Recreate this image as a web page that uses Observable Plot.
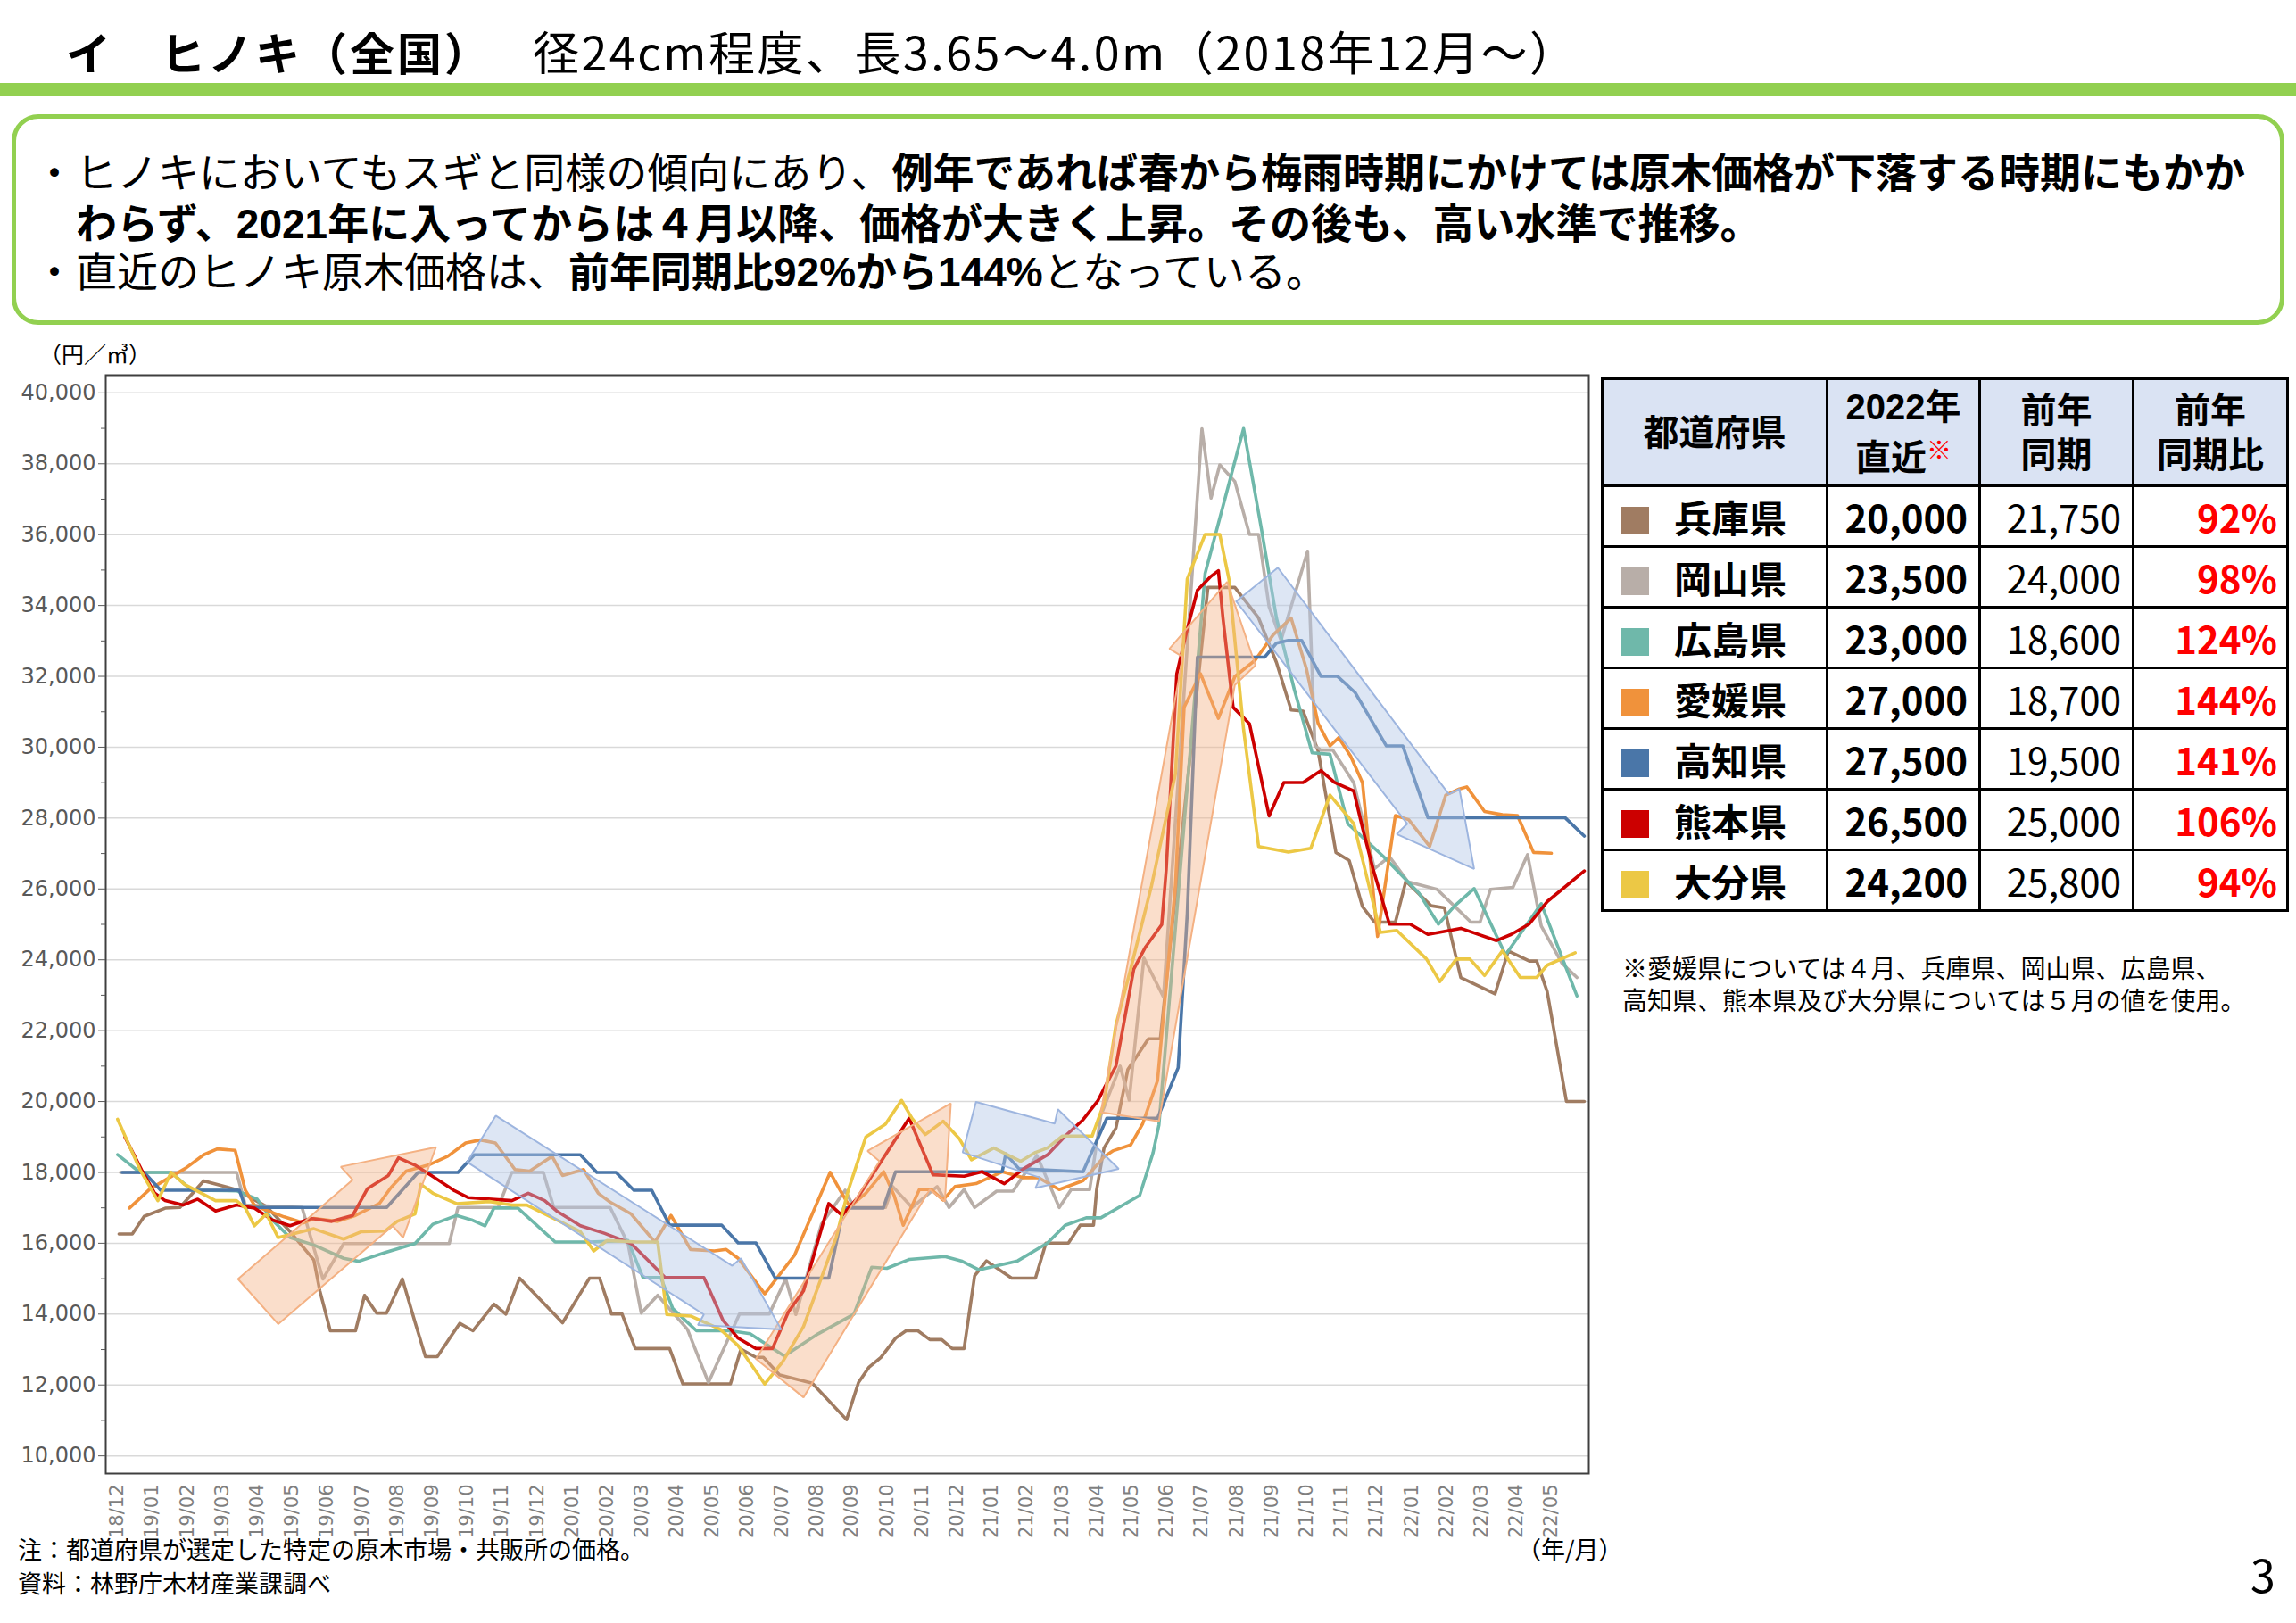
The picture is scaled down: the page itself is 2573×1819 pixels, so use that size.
<!DOCTYPE html>
<html lang="ja">
<head>
<meta charset="utf-8">
<script src="https://cdn.jsdelivr.net/npm/d3@7"></script>
<script src="https://cdn.jsdelivr.net/npm/@observablehq/plot@0.6"></script>
<style>
html,body{margin:0;padding:0;background:#fff;}
body{width:2573px;height:1819px;position:relative;overflow:hidden;font-family:"Noto Sans CJK JP","Noto Sans",sans-serif;color:#000;}
.abs{position:absolute;white-space:nowrap;}
.t1{left:74px;top:26px;font-size:50px;font-weight:bold;line-height:62px;letter-spacing:3px;}
.t2{left:597px;top:26px;font-size:52px;line-height:62px;letter-spacing:2.5px;}
.bar{left:0;top:93px;width:2573px;height:15px;background:#92d050;}
.box{left:13px;top:128px;width:2547px;height:236px;box-sizing:border-box;border:5px solid #92d050;border-radius:30px;}
.ln{font-family:"Liberation Sans","Noto Sans CJK JP",sans-serif;font-size:46px;line-height:56px;}
.ln b{font-weight:bold;}
.bul{font-family:"Liberation Sans","Noto Sans CJK JP",sans-serif;font-size:46px;line-height:56px;}
.note{font-size:27px;line-height:34px;}
table.tb{position:absolute;left:1794px;top:423px;border-collapse:collapse;border:3px solid #000;font-family:"Noto Sans CJK JP",sans-serif;}
table.tb td,table.tb th{border:3px solid #000;padding:0;}
table.tb th{background:#dae3f3;font-family:"Liberation Sans","Noto Sans CJK JP",sans-serif;font-weight:bold;font-size:40px;line-height:50px;height:117px;text-align:center;}
table.tb td{height:65px;font-size:42px;}
td.nm{font-weight:bold;text-align:left;}
td.nm span.sw{display:inline-block;width:31px;height:31px;margin:0 28px 0 20px;vertical-align:-2px;}
td.v1{font-weight:bold;text-align:right;padding-right:12px !important;}
td.v2{text-align:right;padding-right:12px !important;}
td.v3{font-weight:bold;text-align:right;color:#ff0000;padding-right:10px !important;}
#chart{position:absolute;left:0;top:380px;}
</style>
</head>
<body>
<div class="abs t1">イ　ヒノキ（全国）</div>
<div class="abs t2">径24cm程度、長3.65～4.0m（2018年12月～）</div>
<div class="abs bar"></div>
<div class="abs box"></div>
<div class="abs bul" style="left:38px;top:166px;">・</div>
<div class="abs ln" style="left:85px;top:166px;"><span>ヒノキにおいてもスギと同様の傾向にあり、</span><b>例年であれば春から梅雨時期にかけては原木価格が下落する時期にもかか</b></div>
<div class="abs ln" style="left:85px;top:223px;"><b>わらず、2021年に入ってからは４月以降、価格が大きく上昇。その後も、高い水準で推移。</b></div>
<div class="abs bul" style="left:38px;top:277px;">・</div>
<div class="abs ln" style="left:85px;top:277px;"><span>直近のヒノキ原木価格は、</span><b>前年同期比92%から144%</b><span>となっている。</span></div>

<div class="abs" style="left:44px;top:380px;font-size:25px;line-height:32px;">（円／㎥）</div>
<div id="chart"></div>

<div class="abs note" style="left:20px;top:1719px;">注：都道府県が選定した特定の原木市場・共販所の価格。</div>
<div class="abs note" style="left:20px;top:1757px;">資料：林野庁木材産業課調べ</div>
<div class="abs note" style="left:1700px;top:1719px;">（年/月）</div>
<div class="abs" style="left:2522px;top:1733px;font-size:50px;line-height:60px;">3</div>

<table class="tb" id="tbl"></table>
<div class="abs" style="left:1818px;top:1066px;font-size:28px;line-height:36px;">※愛媛県については４月、兵庫県、岡山県、広島県、<br>高知県、熊本県及び大分県については５月の値を使用。</div>

<script>
// ---- data ----
const monthLabels = ["18/12","19/01","19/02","19/03","19/04","19/05","19/06","19/07","19/08","19/09","19/10","19/11","19/12",
  "20/01","20/02","20/03","20/04","20/05","20/06","20/07","20/08","20/09","20/10","20/11","20/12",
  "21/01","21/02","21/03","21/04","21/05","21/06","21/07","21/08","21/09","21/10","21/11","21/12",
  "22/01","22/02","22/03","22/04","22/05"];
const yTicks = [10000,12000,14000,16000,18000,20000,22000,24000,26000,28000,30000,32000,34000,36000,38000,40000];
const yMinor = [11000,13000,15000,17000,19000,21000,23000,25000,27000,29000,31000,33000,35000,37000,39000];

const prefectures = ["兵庫県","岡山県","広島県","愛媛県","高知県","熊本県","大分県"];
const colors = ["#a07c62","#b8aea8","#6fb8aa","#f0923b","#4a76a8","#cc0000","#ecc845"];
const latest = ["20,000","23,500","23,000","27,000","27,500","26,500","24,200"];
const prevYear = ["21,750","24,000","18,600","18,700","19,500","25,000","25,800"];
const ratio = ["92%","98%","124%","144%","141%","106%","94%"];

// [month offset from 2018/12, 円/㎥]
const hyogo = [[0.05,16260],[0.43,16260],[0.77,16760],[1.37,16990],[1.79,17010],[2.47,17760],[3.41,17510],[4.26,17040],[4.94,16330],[5.62,15530],[5.79,14660],[6.09,13530],[6.81,13530],[7.07,14530],[7.41,14030],[7.7,14030],[8.15,14990],[8.51,13780],[8.81,12800],[9.15,12800],[9.79,13740],[10.17,13530],[10.77,14280],[11.11,14000],[11.5,15015],[12.73,13755],[13.5,15015],[13.79,15015],[14.13,14005],[14.43,14005],[14.81,13030],[15.79,13030],[16.17,12030],[17.53,12030],[17.83,13010],[18.26,12780],[18.47,12780],[18.94,12280],[19.87,12050],[20.85,11020],[21.19,12070],[21.49,12500],[21.83,12775],[22.25,13320],[22.55,13530],[22.89,13530],[23.23,13280],[23.57,13280],[23.87,13030],[24.21,13030],[24.51,15080],[24.85,15500],[25.57,15015],[26.25,15015],[26.55,16005],[27.19,16005],[27.53,16510],[27.91,16510],[28.0,17515],[28.21,18690],[28.55,19250],[28.89,20900],[29.48,21770],[29.82,21770],[31.18,34510],[31.95,34510],[32.63,33645],[33.14,32390],[33.56,31050],[33.9,31020],[34.33,29900],[34.84,27030],[35.22,26800],[35.6,25500],[35.94,25063],[36.54,25063],[36.84,26220],[37.56,25526],[37.94,25468],[38.41,23500],[39.39,23040],[39.77,24250],[40.37,23964],[40.58,23964],[40.88,23100],[41.43,20000],[41.94,20000]];
const okayama = [[0.09,18000],[3.41,18000],[3.66,17080],[5.28,17010],[5.88,14990],[6.47,15990],[9.49,15990],[9.74,17010],[10.89,17010],[11.28,18000],[12.18,18000],[12.48,17010],[14.09,17010],[14.6,15990],[14.98,14030],[15.45,14530],[16.3,13570],[16.9,12070],[17.79,14005],[18.64,14005],[19.11,14990],[19.4,13990],[20.13,16535],[20.81,17495],[21.06,17010],[21.96,17010],[22.17,17600],[22.72,17010],[23.44,17600],[23.78,17010],[24.21,17515],[24.51,17010],[25.14,17470],[25.61,17470],[26.29,18480],[26.93,17010],[27.27,17515],[27.8,17515],[28.12,19610],[28.67,21000],[28.93,20040],[29.35,24050],[29.91,22950],[31.01,38990],[31.27,37030],[31.52,37970],[31.95,37500],[32.37,36005],[32.63,36005],[32.93,33960],[33.27,33016],[34.03,35533],[34.24,30040],[34.41,29920],[34.75,29920],[35.35,29000],[35.94,26570],[36.37,26910],[36.9,26200],[37.73,25990],[38.7,25063],[38.96,25063],[39.26,25990],[39.9,26047],[40.32,26970],[40.71,24950],[41.3,23906],[41.73,23500]];
const hiroshima = [[0.01,18500],[0.65,18000],[1.54,18000],[2.13,17495],[3.41,17480],[4.0,17245],[4.43,16660],[4.94,16160],[5.62,15950],[6.47,15575],[6.9,15490],[7.66,15740],[8.51,15990],[9.02,16535],[9.7,16785],[10.13,16660],[10.51,16493],[10.77,16994],[11.45,16994],[12.52,16034],[13.5,16034],[14.6,16075],[15.03,15032],[15.54,15032],[15.88,14155],[16.56,13530],[17.53,13530],[18.09,13445],[19.07,12820],[20.04,13445],[21.06,14000],[21.57,15324],[22.0,15292],[22.64,15544],[23.66,15627],[24.13,15502],[24.63,15250],[25.74,15502],[26.59,16005],[27.1,16508],[27.7,16718],[28.12,16718],[29.23,17350],[29.61,18545],[29.78,19340],[31.1,34904],[32.2,38994],[32.71,36162],[33.14,33645],[33.65,31630],[34.16,29840],[34.67,29800],[35.18,27840],[35.69,27377],[36.2,26914],[37.22,25873],[37.77,25005],[38.24,25526],[38.79,26012],[39.69,24138],[40.71,25584],[41.73,22980]];
const ehime = [[0.35,16994],[0.94,17537],[1.96,18121],[2.47,18497],[2.86,18664],[3.37,18622],[3.66,17495],[3.92,17077],[4.09,16994],[4.77,16744],[5.32,16577],[5.62,16702],[6.3,16618],[6.81,16785],[7.49,17119],[7.83,17578],[8.26,18038],[8.89,18205],[9.45,18455],[9.96,18831],[10.38,18915],[10.81,18831],[11.37,18080],[11.79,18038],[12.43,18455],[12.73,17913],[13.33,18080],[13.75,17412],[14.09,17161],[14.69,16827],[15.37,16034],[15.83,16785],[16.39,15825],[17.07,15783],[17.41,15825],[17.75,15575],[18.51,14573],[19.36,15658],[20.38,18000],[20.64,17537],[20.94,17036],[21.4,17412],[21.91,18019],[22.21,17347],[22.47,16508],[22.93,17515],[23.27,17515],[23.61,17221],[23.95,17599],[24.55,17683],[25.31,18019],[25.91,17850],[26.34,17850],[26.93,17515],[27.61,17767],[28.21,18438],[28.46,18606],[28.97,18774],[29.31,19360],[29.74,20590],[30.25,26096],[30.5,31129],[30.97,32072],[31.48,30814],[31.95,31994],[32.54,32466],[33.05,33174],[33.56,33645],[34.0,32200],[34.33,30674],[34.67,30038],[34.92,30270],[35.26,29749],[35.6,28997],[36.03,24658],[36.54,28071],[36.92,27956],[37.52,27203],[37.98,28650],[38.37,28823],[38.58,28881],[39.09,28187],[39.6,28094],[40.03,28071],[40.49,27030],[41.0,27007]];
const kochi = [[0.14,18000],[0.77,18000],[1.24,17495],[3.49,17495],[3.66,17010],[7.7,17010],[8.6,18000],[9.74,18000],[10.21,18497],[13.24,18497],[13.71,18000],[14.26,18000],[14.77,17495],[15.28,17495],[15.79,16510],[17.28,16510],[17.75,16009],[18.26,16009],[18.81,15015],[20.34,15015],[20.77,16994],[21.9,16994],[22.25,18019],[25.3,18019],[25.4,18522],[25.78,18102],[27.61,18019],[28.29,19528],[29.74,19528],[30.33,20955],[30.59,25307],[30.88,32541],[32.8,32541],[33.14,32939],[33.48,33016],[33.86,33016],[34.41,32005],[34.88,32005],[35.39,31542],[36.28,30038],[36.75,30038],[37.47,28013],[41.39,28013],[41.94,27493]];
const kumamoto = [[0.22,18998],[0.69,18080],[1.07,17412],[1.37,17203],[1.88,17078],[2.3,17245],[2.81,16911],[3.41,17078],[3.92,16994],[4.43,16660],[4.94,16493],[5.54,16702],[6.13,16618],[6.73,16785],[7.15,17537],[7.75,17912],[8.04,18413],[8.51,18205],[8.98,17912],[9.62,17495],[10.04,17286],[11.28,17203],[11.75,17412],[12.22,17203],[12.56,16911],[13.24,16493],[13.92,16284],[14.69,15992],[15.2,15491],[15.66,15032],[16.77,15032],[17.32,13821],[17.75,13320],[18.26,13028],[18.73,13028],[19.19,14072],[19.62,14656],[20.34,17119],[20.72,16785],[21.15,17263],[22.64,19528],[23.32,17934],[24.21,17893],[24.72,18019],[25.36,17683],[25.91,18102],[26.6,18500],[27.1,19025],[27.61,19486],[28.04,20032],[28.21,20368],[28.55,21000],[29.06,23736],[29.4,24365],[29.86,24994],[29.99,26567],[30.29,32072],[30.59,33331],[30.88,34432],[31.27,34825],[31.48,34983],[31.61,33645],[31.9,31129],[32.37,30657],[32.93,28061],[33.35,29005],[33.9,29005],[34.41,29340],[34.8,29005],[35.35,28765],[35.6,27724],[35.9,26567],[36.37,25005],[36.96,25005],[37.47,24716],[38.41,24889],[39.43,24542],[39.85,24716],[40.36,25005],[40.88,25642],[41.94,26509]];
const oita = [[0.01,19499],[0.31,18831],[0.65,18080],[1.16,17203],[1.54,18000],[1.92,17662],[2.81,17203],[3.41,17203],[3.66,16994],[3.92,16493],[4.26,16827],[4.6,16159],[5.62,16410],[6.47,16117],[6.98,16326],[7.66,16343],[8.0,16618],[8.51,16827],[8.68,17662],[9.02,17412],[9.7,17119],[10.64,17178],[11.28,17078],[11.71,17078],[12.56,16660],[13.24,16326],[13.62,15783],[14.0,16075],[14.86,16034],[15.45,16034],[15.71,13988],[16.39,13946],[17.24,13570],[17.75,13111],[18.51,12026],[19.02,12652],[19.62,13654],[20.55,16159],[20.9,17500],[21.4,18998],[21.96,19360],[22.42,20032],[22.72,19528],[23.1,19067],[23.61,19445],[24.08,18942],[24.42,18354],[25.06,18690],[25.83,18312],[26.25,18564],[26.59,18690],[27.02,19025],[27.87,19025],[28.21,19948],[28.55,22162],[28.97,23736],[29.57,26096],[30.25,29241],[30.59,34747],[31.1,36005],[31.52,36005],[31.78,34747],[32.2,30500],[32.63,27196],[33.48,27039],[34.12,27146],[34.67,28650],[35.35,27840],[36.11,24774],[36.58,24831],[37.43,24022],[37.81,23386],[38.28,24022],[38.67,24022],[39.09,23559],[39.6,24253],[40.11,23501],[40.58,23501],[40.88,23848],[41.68,24195]];
const seriesList = [hyogo, okayama, hiroshima, ehime, kochi, kumamoto, oita];

// annotation block arrows (month offset, 円/㎥)
const arrowUp1 = [[3.45,14990],[6.73,17790],[6.39,18160],[9.11,18710],[8.17,16160],[7.87,16490],[4.6,13720],[3.45,14990]];
const arrowUp2 = [[18.26,12736],[21.79,18312],[21.45,18606],[23.83,19948],[23.66,17179],[23.23,17515],[19.62,11650],[18.26,12736]];
const arrowUp3 = [[28.12,19700],[30.46,32550],[30.08,32779],[31.73,34667],[32.54,32308],[31.95,31757],[29.78,19440],[28.12,19700]];
const arrowDown1 = [[10.0,18290],[10.82,19600],[17.58,15366],[17.83,15575],[18.98,13570],[16.6,13696],[16.77,13988],[10.0,18290]];
const arrowFlat = [[24.55,19990],[26.8,19378],[26.89,19781],[28.63,18102],[26.25,17556],[26.38,17850],[24.17,18563],[24.55,19990]];
const arrowDown2 = [[31.99,34116],[33.18,35067],[38.07,28673],[38.37,28824],[38.79,26564],[36.58,27548],[36.88,27838],[31.99,34116]];

// ---- chart ----
const lineMarks = seriesList.map((s, i) => Plot.line(s, {
  x: d => d[0], y: d => d[1], stroke: colors[i], strokeWidth: 3.6,
  strokeLinejoin: "round", strokeLinecap: "round"
}));
const orangeArrow = a => Plot.line(a, {x: d => d[0], y: d => d[1], fill: "#f4b183", fillOpacity: 0.42, stroke: "#f4b183", strokeWidth: 2, strokeLinejoin: "miter"});
const blueArrow = a => Plot.line(a, {x: d => d[0], y: d => d[1], fill: "#b4c7e7", fillOpacity: 0.45, stroke: "#9db5df", strokeWidth: 2, strokeLinejoin: "miter"});

const chart = Plot.plot({
  width: 1800, height: 1400,
  marginLeft: 118, marginRight: 20, marginTop: 40, marginBottom: 129,
  style: {fontFamily: "DejaVu Sans, Verdana, sans-serif", background: "transparent", overflow: "visible"},
  x: {domain: [-0.33, 42.07], axis: null},
  y: {domain: [9500, 40500], axis: null},
  marks: [
    Plot.gridY(yTicks, {stroke: "#d9d9d9", strokeOpacity: 1, strokeWidth: 1.5}),
    ...lineMarks,
    orangeArrow(arrowUp1), orangeArrow(arrowUp2), orangeArrow(arrowUp3),
    blueArrow(arrowDown1), blueArrow(arrowFlat), blueArrow(arrowDown2),
    Plot.frame({stroke: "#3f3f3f", strokeWidth: 2}),
    Plot.axisY(yTicks, {anchor: "left", label: null, tickSize: 8, tickPadding: 3, tickFormat: d3.format(","), fontSize: 24, color: "#595959"}),
    Plot.axisY(yMinor, {anchor: "left", label: null, tickSize: 5, tickFormat: () => "", color: "#595959"}),
    Plot.axisX(monthLabels.map((_, i) => i), {anchor: "bottom", label: null, tickSize: 0, tickPadding: 12, tickRotate: -90, tickFormat: i => monthLabels[i], fontSize: 21, color: "#7f7f7f"})
  ]
});
document.getElementById("chart").appendChild(chart);

// ---- table ----
const tbl = document.getElementById("tbl");
let html = '<colgroup><col style="width:252px"><col style="width:171px"><col style="width:172px"><col style="width:173px"></colgroup>';
html += '<tr><th>都道府県</th><th>2022年<br>直近<span style="color:#ff0000;font-size:28px;vertical-align:12px;">※</span></th><th>前年<br>同期</th><th>前年<br>同期比</th></tr>';
prefectures.forEach((p, i) => {
  html += `<tr><td class="nm"><span class="sw" style="background:${colors[i]}"></span>${p}</td><td class="v1">${latest[i]}</td><td class="v2">${prevYear[i]}</td><td class="v3">${ratio[i]}</td></tr>`;
});
tbl.innerHTML = html;
</script>
</body>
</html>
